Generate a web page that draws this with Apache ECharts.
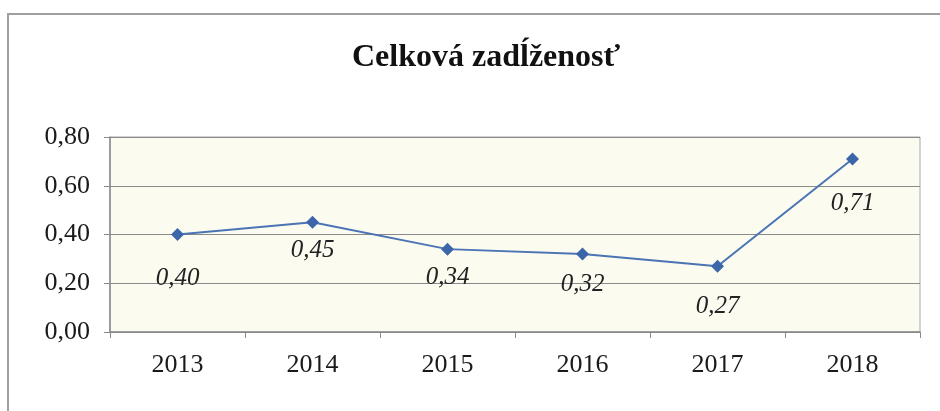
<!DOCTYPE html>
<html>
<head>
<meta charset="utf-8">
<script src="https://cdn.jsdelivr.net/npm/echarts@6/dist/echarts.min.js"></script>
<style>
html,body{margin:0;padding:0;background:#fff;}
#chart{width:940px;height:411px;}
</style>
</head>
<body>
<div id="chart"></div>
<script>
var titleText = 'Celková zadĺženosť';
var years = ['2013', '2014', '2015', '2016', '2017', '2018'];
var values = [0.40, 0.45, 0.34, 0.32, 0.27, 0.71];
var yTicks = [0, 0.2, 0.4, 0.6, 0.8];

// how far under each point the label sits (like Excel placed them)
var labelGaps = [25, 9, 9, 11, 21, 25];

function fmt(v){
  return v.toFixed(2).replace('.', ',');
}

var serif = '"Liberation Serif", "Times New Roman", serif';
var chart = echarts.init(document.getElementById('chart'));
chart.setOption({
  animation: false,
  title: {
    text: titleText,
    left: 347,
    top: 37,
    textStyle: {fontFamily: serif, fontSize: 32, fontWeight: 'bold', color: '#111'}
  },
  graphic: [{
    type: 'rect',
    shape: {x: 8, y: 14, width: 960, height: 440},
    style: {fill: 'none', stroke: '#a0a0a0', lineWidth: 2},
    silent: true
  }],
  grid: {
    left: 110, right: 20, top: 137, bottom: 79,
    show: true,
    backgroundColor: '#fcfbf0',
    borderColor: '#a8a8a8',
    borderWidth: 1
  },
  xAxis: {
    type: 'category',
    data: years,
    boundaryGap: true,
    axisLine: {lineStyle: {color: '#8a8a8a', width: 1.5}},
    axisTick: {show: true, length: 6, lineStyle: {color: '#8a8a8a'}},
    axisLabel: {fontFamily: serif, fontSize: 26, color: '#1a1a1a', margin: 20}
  },
  yAxis: {
    type: 'value',
    min: yTicks[0],
    max: yTicks[yTicks.length - 1],
    interval: 0.2,
    axisLine: {show: true, lineStyle: {color: '#8a8a8a', width: 1.5}},
    axisTick: {show: true, length: 6, lineStyle: {color: '#8a8a8a'}},
    splitLine: {lineStyle: {color: '#8a8a8a', width: 1}},
    axisLabel: {fontFamily: serif, fontSize: 26, color: '#1a1a1a', margin: 20,
      formatter: function(v){ return fmt(v); }}
  },
  series: [{
    type: 'line',
    data: values.map(function(v, i){
      return {value: v, label: {distance: labelGaps[i]}};
    }),
    symbol: 'diamond',
    symbolSize: 13,
    itemStyle: {color: '#3d66aa'},
    lineStyle: {color: '#4a74b4', width: 2},
    label: {
      show: true,
      position: 'bottom',
      fontFamily: serif,
      fontStyle: 'italic',
      fontSize: 25,
      color: '#222',
      formatter: function(p){ return fmt(p.value); }
    }
  }]
});
</script>
</body>
</html>
